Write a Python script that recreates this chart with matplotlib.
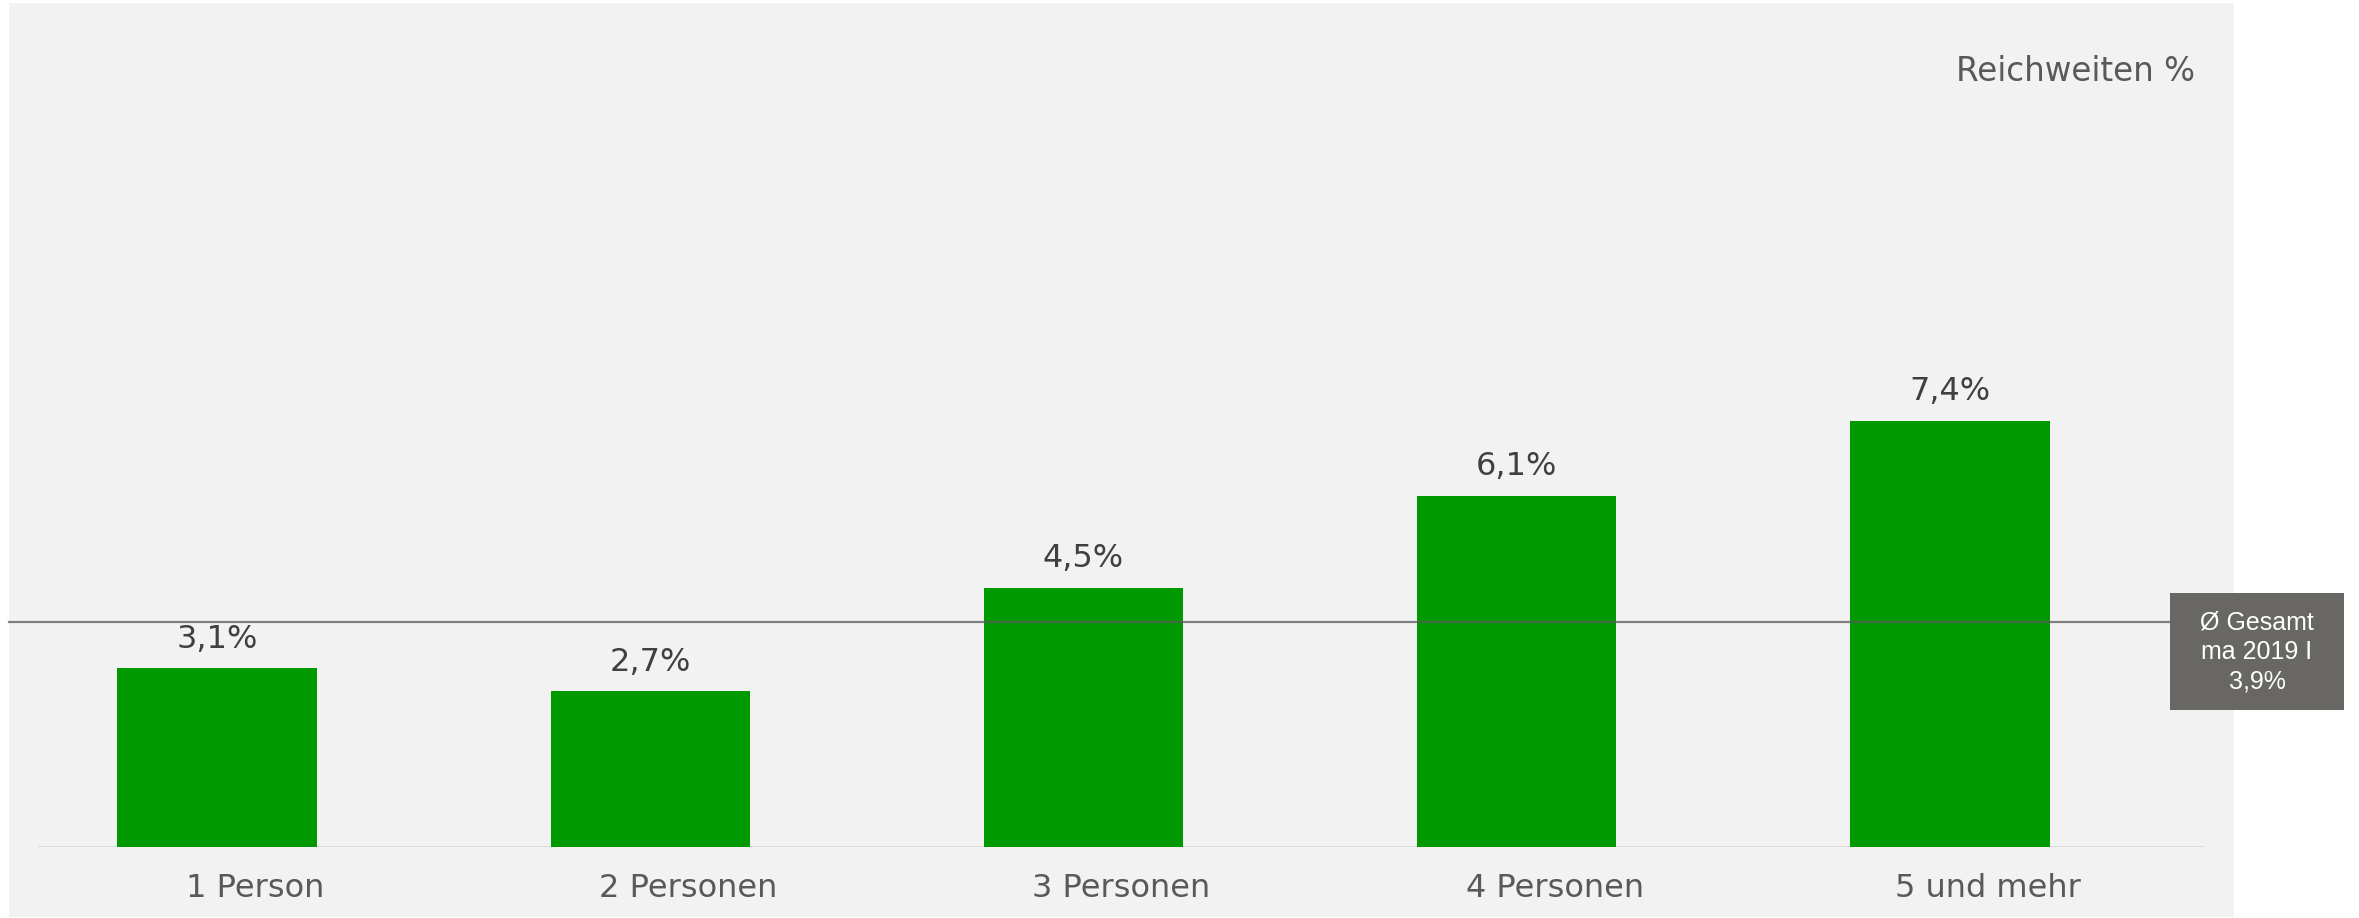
import matplotlib
matplotlib.use("Agg")
import matplotlib.pyplot as plt
from matplotlib.patches import Rectangle
from matplotlib.transforms import ScaledTranslation

categories = ["1 Person", "2 Personen", "3 Personen", "4 Personen", "5 und mehr"]
reichweiten = [3.1, 2.7, 4.5, 6.1, 7.4]
gesamt = 3.9
gesamt_label = "Ø Gesamt\nma 2019 I\n3,9%"
unit_label = "Reichweiten %"

W, H, DPI = 2359, 918, 100
fig = plt.figure(figsize=(W / DPI, H / DPI), dpi=DPI)
fig.patch.set_facecolor("white")

# grey panel behind the chart
fig.patches.append(Rectangle((9 / W, 1 / H), (2234 - 9) / W, (917 - 3) / H,
                             transform=fig.transFigure, facecolor="#F2F2F2",
                             edgecolor="none", zorder=-1))

ax = fig.add_axes([38 / W, (H - 847) / H, (2204 - 38) / W, (847 - 3) / H])
ax.set_facecolor("none")
x = list(range(len(categories)))
ax.bar(x, reichweiten, width=0.46, color="#009900", zorder=3)
ax.set_xlim(-0.413, 4.586)
ax.set_ylim(0, 14.65)

labels = [f"{v:.1f}".replace(".", ",") + "%" for v in reichweiten]
ax.bar_label(ax.containers[0], labels=labels, padding=10, fontsize=23,
             color="#404040", family="DejaVu Sans")

ax.axhline(0, color="#D9D9D9", lw=2, zorder=2)
# average line runs across the bars
ax.axhline(gesamt, xmin=(9 - 38) / 2166, xmax=(2170 - 38) / 2166,
           color="#595959", alpha=0.75, lw=1.6, clip_on=False, zorder=4)

ax.set_xticks(x)
ax.set_xticklabels(categories, fontsize=23, color="#595959", family="DejaVu Sans")
ax.tick_params(axis="x", length=0, pad=19)
shift = ScaledTranslation(38 / DPI, 0, fig.dpi_scale_trans)
for lab in ax.get_xticklabels():
    lab.set_transform(lab.get_transform() + shift)
ax.set_yticks([])
for s in ax.spines.values():
    s.set_visible(False)

# box for the overall average
fig.patches.append(Rectangle((2170 / W, (H - 710) / H), 174 / W, 117 / H,
                             transform=fig.transFigure, facecolor="#686763",
                             edgecolor="none", zorder=5))
fig.text(2257 / W, (H - 652) / H, gesamt_label, ha="center", va="center",
         fontsize=18, color="white", family="Liberation Sans",
         linespacing=1.3, zorder=6)

fig.text(2195 / W, (H - 81) / H, unit_label, ha="right", va="baseline",
         fontsize=23.5, color="#595959", family="DejaVu Sans")

fig.savefig("out.png", dpi=DPI)
